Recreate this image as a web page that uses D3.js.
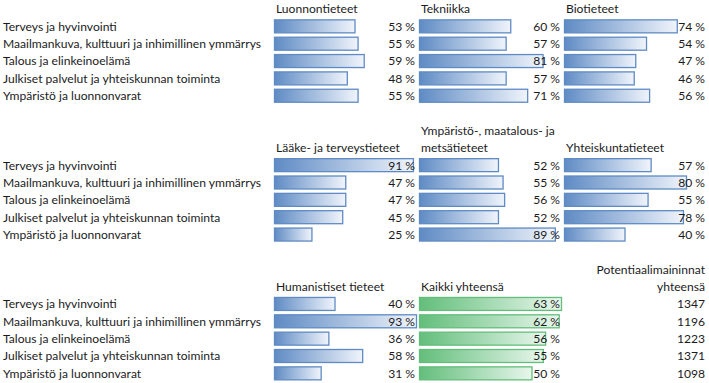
<!DOCTYPE html>
<html>
<head>
<meta charset="utf-8">
<script src="https://cdn.jsdelivr.net/npm/d3@7"></script>
<style>
  body { margin: 0; background: #fff; }
  svg text { font-family: Lato, "Open Sans", sans-serif; font-size: 12.1px; fill: #1b1b1b; }
</style>
</head>
<body>
<svg id="chart" width="709" height="383"></svg>
<script>
// row labels (same in every block)
var themes = ['Terveys ja hyvinvointi',
  'Maailmankuva,  kulttuuri ja inhimillinen ymm\u00e4rrys',
  'Talous ja elinkeinoel\u00e4m\u00e4',
  'Julkiset palvelut ja yhteiskunnan toiminta',
  'Ymp\u00e4rist\u00f6 ja luonnonvarat'];

// shares per field (%)
var luonnontieteet = [53, 55, 59, 48, 55];
var tekniikka = [60, 57, 81, 57, 71];
var biotieteet = [74, 54, 47, 46, 56];
var laake = [91, 47, 47, 45, 25];
var ymparisto = [52, 55, 56, 52, 89];
var yhteiskunta = [57, 80, 55, 78, 40];
var humanistiset = [40, 93, 36, 58, 31];
var kaikki = [63, 62, 56, 55, 50];
var mainintoja = [1347, 1196, 1223, 1371, 1098];

// panels: block (0..2), column (0..2), header lines
var panels = [
  {b:0, c:0, head:['Luonnontieteet'], vals:luonnontieteet, kind:'blue'},
  {b:0, c:1, head:['Tekniikka'], vals:tekniikka, kind:'blue'},
  {b:0, c:2, head:['Biotieteet'], vals:biotieteet, kind:'blue'},
  {b:1, c:0, head:['L\u00e4\u00e4ke- ja terveystieteet'], vals:laake, kind:'blue'},
  {b:1, c:1, head:['Ymp\u00e4rist\u00f6-, maatalous- ja', 'mets\u00e4tieteet'], vals:ymparisto, kind:'blue'},
  {b:1, c:2, head:['Yhteiskuntatieteet'], vals:yhteiskunta, kind:'blue'},
  {b:2, c:0, head:['Humanistiset tieteet'], vals:humanistiset, kind:'blue'},
  {b:2, c:1, head:['Kaikki yhteens\u00e4'], vals:kaikki, kind:'green'}
];

var svg = d3.select('#chart');
var defs = svg.append('defs');

function grad(id, c0, c1){
  var g = defs.append('linearGradient').attr('id', id).attr('x1','0%').attr('x2','100%');
  g.append('stop').attr('offset','0%').attr('stop-color', c0);
  g.append('stop').attr('offset','100%').attr('stop-color', c1);
}
grad('gBlue', '#5f8bc4', '#f0f4fb');
grad('gGreen', '#63be7b', '#e8f6ec');

var rowY = d3.scaleLinear().domain([0, 21]).range([9, 9 + 21*17.35]);
var colX = d3.scaleLinear().domain([0, 3]).range([272, 707]);
var colW = colX(1) - colX(0);

var blueMax = d3.max(panels.filter(function(p){ return p.kind=='blue'; }), function(p){ return d3.max(p.vals); });
var blueScale = d3.scaleLinear().domain([0, blueMax]).range([0, colW - 2]);
var greenScale = d3.scaleLinear().domain([0, d3.max(kaikki)]).range([0, colW - 2]);

var blockStart = [1, 9, 17]; // first data row of each block

// row labels
blockStart.forEach(function(s){
  svg.append('g').selectAll('text').data(themes).enter().append('text')
    .attr('x', 3)
    .attr('y', function(d,i){ return rowY(s+i); })
    .attr('dy', '0.36em')
    .text(function(d){ return d; });
});

panels.forEach(function(p){
  var s = blockStart[p.b];
  var x0 = colX(p.c);
  var sc = p.kind=='green' ? greenScale : blueScale;
  var g = svg.append('g');

  g.selectAll('text.head').data(p.head).enter().append('text')
    .attr('class','head')
    .attr('x', x0 + 4)
    .attr('y', function(d,i){ return rowY(s - p.head.length + i); })
    .attr('dy', '0.36em')
    .text(function(d){ return d; });

  g.selectAll('rect').data(p.vals).enter().append('rect')
    .attr('x', x0 + 2.5)
    .attr('y', function(d,i){ return rowY(s+i) - 6.5; })
    .attr('width', function(d){ return sc(d) - 1; })
    .attr('height', 13)
    .attr('fill', p.kind=='green' ? 'url(#gGreen)' : 'url(#gBlue)')
    .attr('stroke', p.kind=='green' ? '#63be7b' : '#5f8bc4')
    .attr('stroke-width', 1.3);

  g.selectAll('text.val').data(p.vals).enter().append('text')
    .attr('class','val')
    .attr('x', x0 + colW - 2)
    .attr('y', function(d,i){ return rowY(s+i); })
    .attr('dy', '0.36em')
    .attr('text-anchor','end')
    .text(function(d){ return d + ' %'; });
});

// total mentions column
var cx = colX(3) - 2;
svg.append('g').selectAll('text').data(['Potentiaalimaininnat', 'yhteens\u00e4']).enter().append('text')
  .attr('x', cx)
  .attr('y', function(d,i){ return rowY(15+i); })
  .attr('dy', '0.36em')
  .attr('text-anchor','end')
  .text(function(d){ return d; });

svg.append('g').selectAll('text').data(mainintoja).enter().append('text')
  .attr('x', cx)
  .attr('y', function(d,i){ return rowY(17+i); })
  .attr('dy', '0.36em')
  .attr('text-anchor','end')
  .text(function(d){ return d; });
</script>
</body>
</html>
